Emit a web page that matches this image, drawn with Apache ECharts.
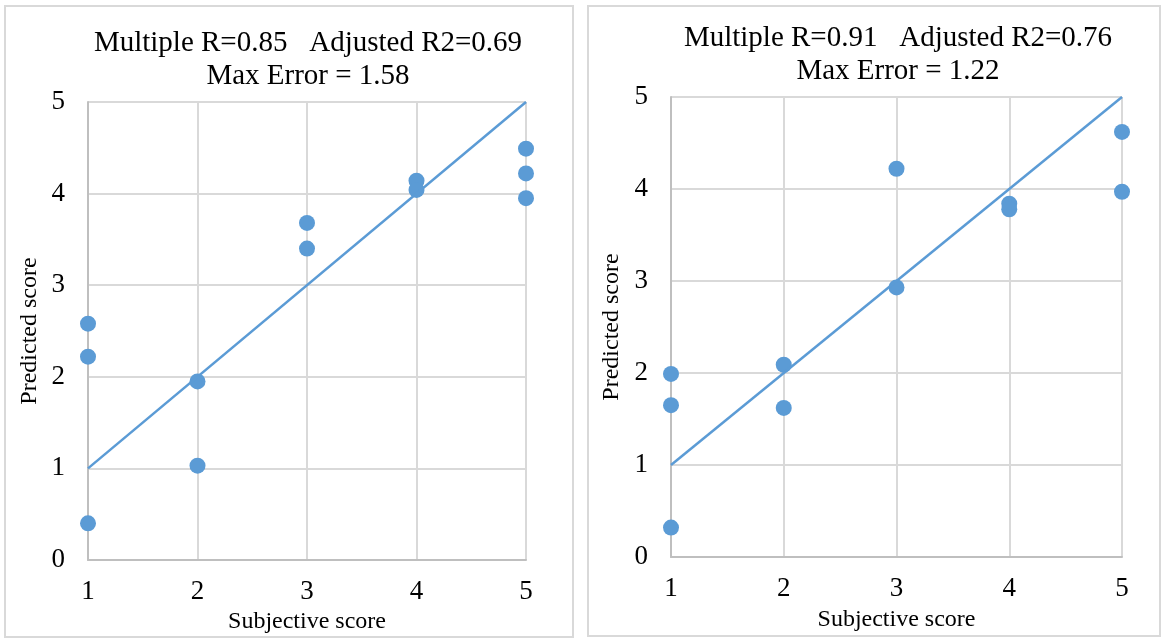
<!DOCTYPE html>
<html>
<head>
<meta charset="utf-8">
<script src="https://cdn.jsdelivr.net/npm/echarts@6/dist/echarts.min.js"></script>
<style>
  html, body { margin: 0; padding: 0; background: #fff; }
  #chart { width: 1163px; height: 639px; }
</style>
</head>
<body>
<div id="chart"></div>
<script>
// Model A: subjective vs predicted scores
const subjectiveA = [1, 1, 1, 2, 2, 3, 3, 4, 4, 5, 5, 5];
const predictedA  = [2.58, 2.22, 0.40, 1.95, 1.03, 3.68, 3.40, 4.14, 4.04, 4.49, 4.22, 3.95];
const titleA = 'Multiple R=0.85   Adjusted R2=0.69\nMax Error = 1.58';

// Model B: subjective vs predicted scores
const subjectiveB = [1, 1, 1, 2, 2, 3, 3, 4, 4, 5, 5];
const predictedB  = [1.99, 1.65, 0.32, 2.09, 1.62, 4.22, 2.93, 3.84, 3.78, 4.62, 3.97];
const titleB = 'Multiple R=0.91   Adjusted R2=0.76\nMax Error = 1.22';

// Ideal agreement line (predicted = subjective)
const idealX = [1, 5];
const idealY = [1, 5];

const xName = 'Subjective score';
const yName = 'Predicted score';

const FONT = '"Liberation Serif", "Times New Roman", serif';
const BLUE = '#5B9BD5';
const GRID = '#D9D9D9';
const AXIS = '#BFBFBF';

const zip = (xs, ys) => xs.map((x, i) => [x, ys[i]]);

function xAxisFor(gridIndex, nameGap) {
  return {
    gridIndex, type: 'value', min: 1, max: 5, interval: 1,
    name: xName, nameLocation: 'middle', nameGap,
    nameTextStyle: { fontFamily: FONT, fontSize: 24, color: '#000' },
    axisLine: { show: true, lineStyle: { color: AXIS, width: 2 } },
    axisTick: { show: false },
    axisLabel: { fontFamily: FONT, fontSize: 27, color: '#000', margin: 18 },
    splitLine: { show: true, lineStyle: { color: GRID, width: 2 } }
  };
}
function yAxisFor(gridIndex, nameGap) {
  return {
    gridIndex, type: 'value', min: 0, max: 5, interval: 1,
    name: yName, nameLocation: 'middle', nameGap,
    nameTextStyle: { fontFamily: FONT, fontSize: 24, color: '#000' },
    axisLine: { show: true, lineStyle: { color: AXIS, width: 2 } },
    axisTick: { show: false },
    axisLabel: { fontFamily: FONT, fontSize: 27, color: '#000', margin: 23 },
    splitLine: { show: true, lineStyle: { color: GRID, width: 2 } }
  };
}

const chart = echarts.init(document.getElementById('chart'), null, { renderer: 'canvas' });
chart.setOption({
  animation: false,
  backgroundColor: '#fff',
  title: [
    { text: titleA, left: 303, top: 22, textAlign: 'center',
      textStyle: { fontFamily: FONT, fontSize: 29, fontWeight: 'normal', color: '#000', lineHeight: 33 } },
    { text: titleB, left: 893, top: 17, textAlign: 'center',
      textStyle: { fontFamily: FONT, fontSize: 29, fontWeight: 'normal', color: '#000', lineHeight: 33 } }
  ],
  graphic: [
    { type: 'rect', shape: { x: 5, y: 6, width: 568, height: 631 },
      style: { fill: 'none', stroke: GRID, lineWidth: 2 }, silent: true, z: -1 },
    { type: 'rect', shape: { x: 588, y: 6, width: 572, height: 630 },
      style: { fill: 'none', stroke: GRID, lineWidth: 2 }, silent: true, z: -1 }
  ],
  grid: [
    { left: 88, top: 102, width: 438, height: 459 },
    { left: 671, top: 97, width: 451, height: 460 }
  ],
  xAxis: [xAxisFor(0, 50), xAxisFor(1, 51)],
  yAxis: [yAxisFor(0, 46), yAxisFor(1, 47)],
  series: [
    { type: 'line', xAxisIndex: 0, yAxisIndex: 0, data: zip(idealX, idealY),
      showSymbol: false, lineStyle: { color: BLUE, width: 2.5 } },
    { type: 'scatter', xAxisIndex: 0, yAxisIndex: 0, data: zip(subjectiveA, predictedA),
      symbolSize: 16, itemStyle: { color: BLUE, opacity: 1 } },
    { type: 'line', xAxisIndex: 1, yAxisIndex: 1, data: zip(idealX, idealY),
      showSymbol: false, lineStyle: { color: BLUE, width: 2.5 } },
    { type: 'scatter', xAxisIndex: 1, yAxisIndex: 1, data: zip(subjectiveB, predictedB),
      symbolSize: 16, itemStyle: { color: BLUE, opacity: 1 } }
  ]
});
</script>
</body>
</html>
